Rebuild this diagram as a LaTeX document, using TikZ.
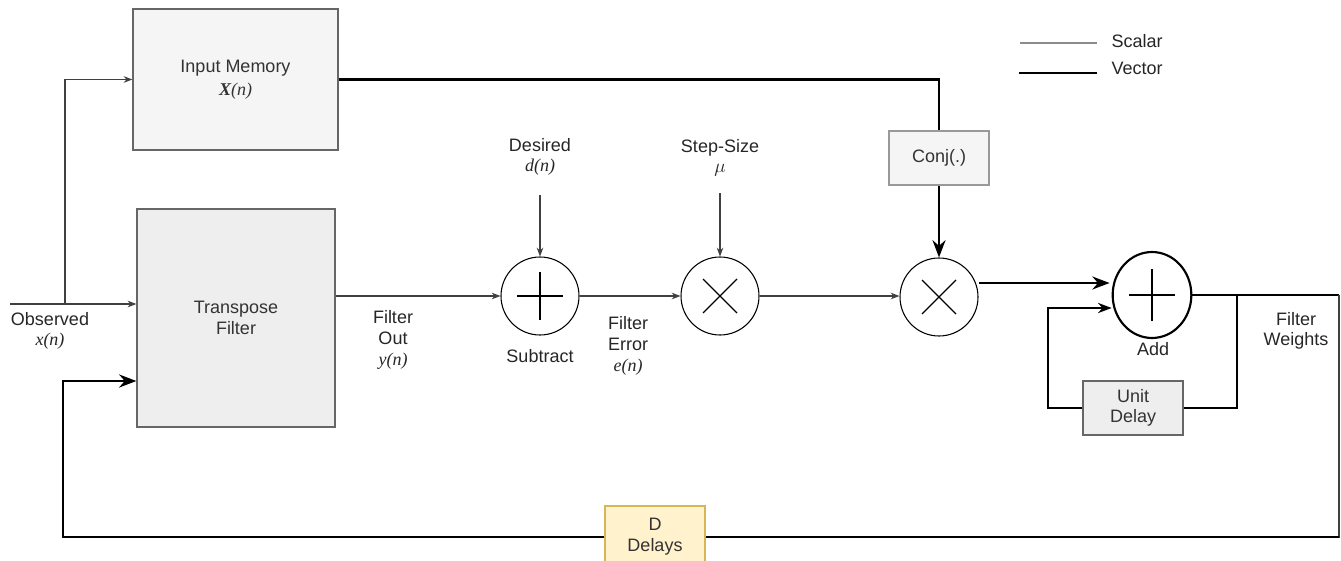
\documentclass[tikz,border=0pt]{standalone}
\usepackage{fontspec}
\setmainfont{Liberation Sans}
\newfontfamily\sigfont{Liberation Serif}
\usepackage{tikz}
\usetikzlibrary{arrows.meta, positioning, calc, shapes.geometric}
\definecolor{boxc}{HTML}{F5F5F5}
\definecolor{boxd}{HTML}{EEEEEE}
\definecolor{edgec}{HTML}{666666}
\definecolor{delc}{HTML}{FFF2CC}
\definecolor{deld}{HTML}{D6B656}
\definecolor{txtc}{HTML}{333333}
\newcommand{\sig}[1]{{\sigfont\itshape #1}}

\begin{document}
\begin{tikzpicture}[x=0.75pt, y=-0.75pt, >=Stealth,
    font=\fontsize{13.5}{15.5}\selectfont,
    blk/.style={draw=edgec, line width=0.9pt, fill=boxc, text=txtc, align=center},
    op/.style={circle, draw=black, line width=0.8pt, minimum size=58.5pt, inner sep=0pt},
    scalar/.style={draw=black!75, line width=0.8pt},
    vector/.style={draw=black, line width=2.2pt},
    lbl/.style={align=center, text=black!85, inner sep=1pt}]
    \useasboundingbox (0,0) rectangle (1341,560);
    % blocks
    \node[blk, minimum width=153.75pt, minimum height=105.75pt]
      (inmem) at (235.5,79.5) {Input Memory\\[2pt]{\sigfont\bfseries\itshape X}\sig{(n)}};
    \node[blk, fill=boxd, minimum width=148.5pt, minimum height=163.5pt]
      (tfilt) at (236,318) {Transpose\\Filter};
    \node[blk, draw=black!40, minimum width=75pt, minimum height=40.5pt]
      (conj) at (939,158) {Conj(.)};
    \node[blk, fill=boxd, minimum width=75pt, minimum height=40.5pt]
      (udelay) at (1133,408) {Unit\\Delay};
    % operators
    \node[op] (sub) at (540,296) {};
    \node[op] (mult1) at (720,296) {};
    \node[op] (mult2) at (939,297) {};
    \node[ellipse, draw=black, line width=1.6pt, minimum width=59pt,
      minimum height=64.5pt, inner sep=0pt] (add) at (1152,295) {};
    \draw[line width=0.9pt] ($(sub)+(-23,0)$) -- ($(sub)+(23,0)$)
      ($(sub)+(0,-24)$) -- ($(sub)+(0,24)$);
    \foreach \m in {mult1,mult2}{
      \draw[line width=0.9pt] ($(\m)+(-17,-17)$) -- ($(\m)+(17,17)$)
        ($(\m)+(-17,17)$) -- ($(\m)+(17,-17)$);
    }
    \draw[line width=1.6pt] ($(add)+(-23,0)$) -- ($(add)+(23,0)$)
      ($(add)+(0,-26)$) -- ($(add)+(0,26)$);
    % delay line at the bottom
    \node[blk, draw=deld, fill=delc, minimum width=75pt, minimum height=46.5pt]
      (ddelay) at (655,537) {D\\Delays};
    % labels
    \node[lbl] (obslbl) at (50,331) {Observed\\\sig{x(n)}};
    \node[lbl] (outlbl) at (393,340) {Filter\\Out\\\sig{y(n)}};
    \node[lbl] (deslbl) at (540,157) {Desired\\\sig{d(n)}};
    \node[lbl] (steplbl) at (720,158) {Step-Size\\\sig{$\mu$}};
    \node[lbl] (errlbl) at (628,346) {Filter\\Error\\\sig{e(n)}};
    \node[lbl] (sublbl) at (540,356) {Subtract};
    \node[lbl] (addlbl) at (1153,349) {Add};
    \node[lbl] (wlbl) at (1296,331) {Filter\\Weights};
    % corner points
    \coordinate (obs) at (10,304);
    \coordinate (br) at (65,304);
    \coordinate (desin) at (540,195);
    \coordinate (stepin) at (720,193);
    \coordinate (m2out) at (979,283);
    \coordinate (wout) at (1339,295);
    \coordinate (fb) at (63,381);
    \coordinate (loopl) at (1048,308);
    \coordinate (loopr) at (1237,295);
    % scalar paths
    \draw[scalar, ->] (obs) -- (obs -| tfilt.west);
    \draw[scalar, ->] (br) |- (inmem.west);
    \draw[scalar, ->] (sub.west -| tfilt.east) -- (sub.west);
    \draw[scalar, ->] (desin) -- (sub.north);
    \draw[scalar, ->] (stepin) -- (mult1.north);
    \draw[scalar, ->] (sub.east) -- (mult1.west);
    \draw[scalar, ->] (mult1.east) -- (mult1.east -| mult2.west);
    % vector paths
    \draw[vector] (inmem.east) -| (conj.north);
    \draw[vector, ->] (conj.south) -- (mult2.north);
    \draw[vector, ->] (m2out) -- ($(m2out -| add.west)+(-2,0)$);
    \draw[vector, line width=1.6pt] (add.east) -- (wout);
    \draw[scalar] (wout) |- (ddelay.east);
    \draw[vector] (ddelay.east) -- (ddelay.east -| wout);
    \draw[vector, ->] (ddelay.west) -| (fb) -- (fb -| tfilt.west);
    \draw[vector, line width=1.6pt, ->] (udelay.west) -| (loopl) -- (loopl -| add.west);
    \draw[vector, line width=1.6pt] (udelay.east) -| (loopr);
    % legend
    \coordinate (sca) at (1020,43);
    \coordinate (veca) at (1019,73);
    \node[lbl, anchor=west] (scalbl) at (1110,41) {Scalar};
    \node[lbl, anchor=west] (veclbl) at (1110,68) {Vector};
    \draw[draw=black!45, line width=1.5pt] (sca) -- ++(77,0);
    \draw[vector] (veca) -- ++(78,0);
  \end{tikzpicture}
\end{document}
